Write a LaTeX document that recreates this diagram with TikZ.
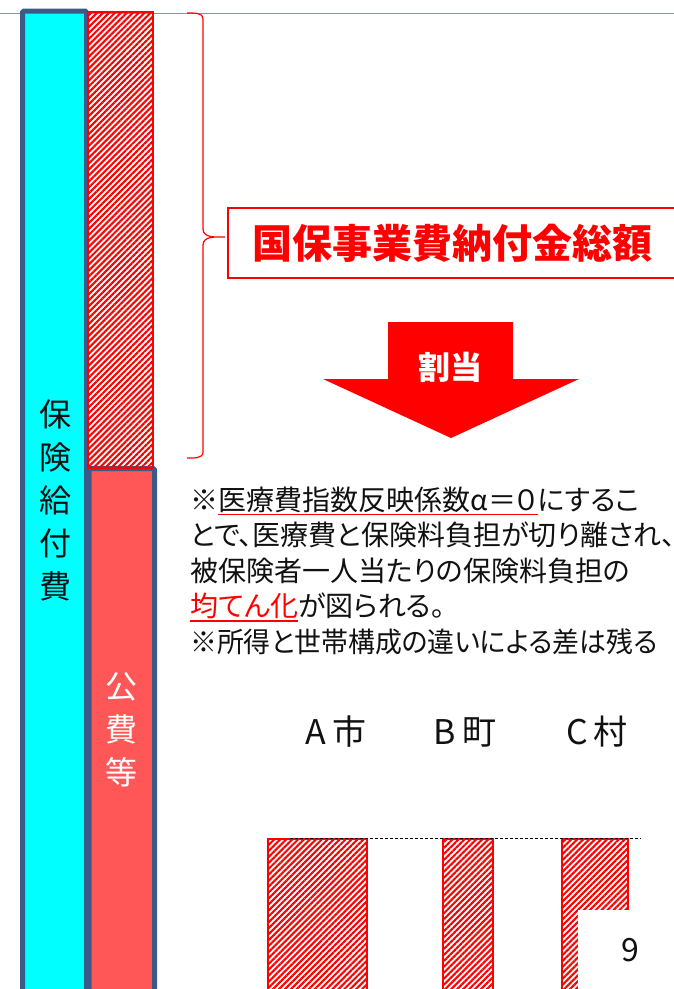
\documentclass[tikz,border=0pt]{standalone}
\usepackage{fontspec}
\newfontfamily\jpfont[RawFeature=+palt]{Noto Sans CJK JP}
\usetikzlibrary{patterns.meta}
\definecolor{rulegray}{HTML}{8294AE}
\definecolor{barcyan}{HTML}{00FFFF}
\definecolor{barcoral}{HTML}{FF5757}
\definecolor{baredge}{HTML}{3C5A88}
\definecolor{txtblack}{HTML}{111111}

\begin{document}
\begin{tikzpicture}[
  x=1pt,
  y=-1pt,
  every node/.style={font=\jpfont, inner sep=0pt, text=txtblack},
  toprule/.style={draw=rulegray, line width=1.4pt},
  tallbar/.style={draw=baredge, line width=5pt, rounded corners=1.5pt},
  hatchbar/.style={draw=red, line width=1.8pt, pattern={Lines[angle=45, distance=4.2pt, line width=2.1pt]}, pattern color=red},
  bracket/.style={draw=red, line width=1.2pt},
  titlebox/.style={draw=red, line width=2pt},
  bigtext/.style={font=\jpfont\fontsize{32}{43}\selectfont, align=center},
  citytext/.style={font=\jpfont\fontsize{34}{34}\selectfont},
  bodytext/.style={font=\jpfont\fontsize{28}{35}\selectfont, anchor=base west},
  uline/.style={draw=red, line width=1.8pt},
  levelline/.style={draw=black, line width=0.9pt, dash pattern=on 3pt off 2pt}
]
  \useasboundingbox (0,0) rectangle (674,989);
  \clip (0,0) rectangle (674,989);

  \draw[toprule] (0,13.5) -- (674,13.5);

  % left columns
  \draw[tallbar, fill=barcyan] (22.5,11) rectangle (86.5,992);
  \draw[tallbar, fill=barcoral] (89,468.5) rectangle (154.5,992);
  \draw[hatchbar] (88,12) rectangle (153,468);
  \node[bigtext] (kyufu) at (55,500) {保\\険\\給\\付\\費};
  \node[bigtext, text=white] (kouhi) at (121,730) {公\\費\\等};

  \draw[bracket] (187,13) to[out=0, in=90] (203,19) -- (203,229)
    to[out=-90, in=180] (225,237) to[out=180, in=90] (203,245) -- (203,452)
    to[out=-90, in=0] (187,458);

  \draw[titlebox] (228,208) rectangle (700,278);
  \node[font=\jpfont\bfseries\fontsize{40}{40}\selectfont, text=red] (soukei) at (452,243) {国保事業費納付金総額};

  \fill[red] (388,322) -- (513,322) -- (513,379) -- (579,379) -- (451,438)
    -- (323,379) -- (388,379) -- cycle;
  \node[font=\jpfont\bfseries\fontsize{32}{32}\selectfont, text=white] (wariate) at (450,367) {割当};

  % note text
  \node[bodytext] (note1a) at (190,510) {※};
  \node[bodytext] (note1b) at (note1a.base east) {医療費指数反映係数α＝０};
  \node[bodytext] (note1c) at (note1b.base east) {にするこ};
  \draw[uline] ([yshift=-4.5pt]note1b.base west) -- ([yshift=-4.5pt]note1b.base east);
  \node[bodytext] (note2) at (190,545.5) {とで、医療費と保険料負担が切り離され、};
  \node[bodytext] (note3) at (190,581) {被保険者一人当たりの保険料負担の};
  \node[bodytext, text=red] (note4a) at (190,616.5) {均てん化};
  \node[bodytext] (note4b) at (note4a.base east) {が図られる。};
  \draw[uline] ([yshift=-4.5pt]note4a.base west) -- ([yshift=-4.5pt]note4a.base east);
  \node[bodytext, transform shape, xscale=0.96] (note5) at (190,652) {※所得と世帯構成の違いによる差は残る};

  % municipalities
  \node[citytext] (cityA) at (336,732) {A\hspace{6pt}市};
  \node[citytext] (cityB) at (465,732) {B\hspace{6pt}町};
  \node[citytext] (cityC) at (597,732) {C\hspace{6pt}村};

  \foreach \l/\r in {268/367, 443/493, 562/628} {
    \draw[hatchbar] (\l,839) rectangle (\r,995);
  }
  \draw[levelline] (290,838) -- (641,838);

  \fill[white] (578,910) rectangle (690,995);
  \node[font=\jpfont\fontsize{32}{32}\selectfont] (pagenum) at (630,950) {9};
\end{tikzpicture}
\end{document}
